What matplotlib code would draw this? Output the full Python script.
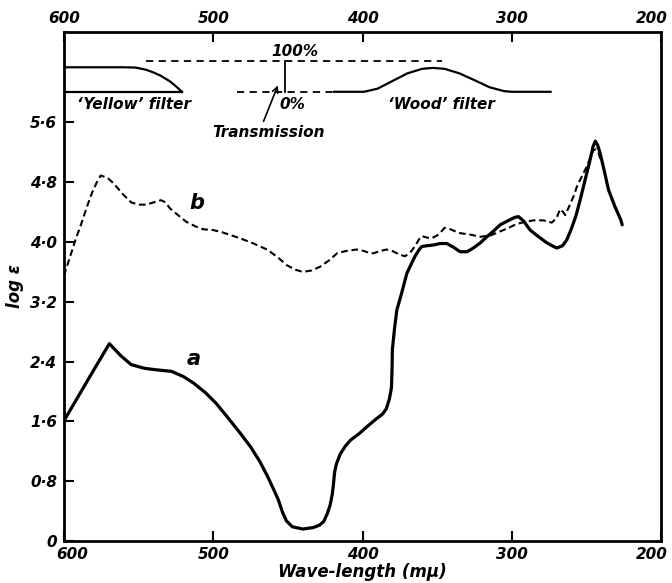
import matplotlib
matplotlib.use("Agg")
import matplotlib.pyplot as plt
import matplotlib.transforms as mtransforms
import numpy as np

# ---------------- data ----------------
a_nm = [600, 590, 580, 569.6, 562, 555, 546, 538, 528, 520, 513, 505, 498, 491, 483,
        475, 469, 464, 460, 456.4, 453.5, 451, 447, 440, 433, 429, 426, 423.5, 421.7,
        420.3, 419.5, 418.7, 417.5, 415, 411.5, 408, 402, 397, 391, 386.5, 384, 382,
        380.6, 380.2, 380, 378.5, 377, 374, 370.3, 367, 364.8, 362, 360.3, 357, 352.5,
        348, 343.5, 339, 334.6, 330, 325.7, 321, 316.7, 312, 307.8, 302, 298, 295.5,
        292, 287.7, 282, 276.5, 272, 269.8, 266, 263.1, 260, 257, 254.2, 251, 247.5,
        245.5, 244, 242.5, 240.8, 238, 235.2, 231, 227, 226]
a_log = [1.61, 1.95, 2.29, 2.64, 2.48, 2.36, 2.31, 2.29, 2.27, 2.20, 2.11, 1.98, 1.84, 1.67, 1.47,
         1.26, 1.07, 0.88, 0.71, 0.55, 0.38, 0.27, 0.19, 0.16, 0.18, 0.21, 0.26, 0.37, 0.48,
         0.62, 0.75, 0.92, 1.03, 1.16, 1.27, 1.35, 1.44, 1.53, 1.63, 1.70, 1.77, 1.90,
         2.05, 2.30, 2.56, 2.85, 3.09, 3.30, 3.58, 3.72, 3.81, 3.90, 3.94, 3.95, 3.96,
         3.98, 3.98, 3.93, 3.87, 3.87, 3.92, 3.99, 4.07, 4.15, 4.23, 4.29, 4.33, 4.34,
         4.28, 4.16, 4.07, 3.99, 3.94, 3.92, 3.95, 4.03, 4.18, 4.35, 4.56, 4.82, 5.10,
         5.28, 5.35, 5.30, 5.19, 4.95, 4.70, 4.48, 4.30, 4.23]

b_nm = [600, 596, 592, 589, 585, 581.4, 578, 575.4, 571, 567, 561, 555, 550, 545, 540,
        535, 532, 529, 523, 518, 512, 506.6, 500, 494, 488, 482, 473, 464, 457, 450.7,
        445, 440, 434, 428.4, 422, 417, 411, 404, 399, 395, 392.7, 388, 384, 380, 375,
        371.5, 368, 365, 362, 360.3, 357, 353.6, 349, 345, 341, 335, 328, 321, 314, 308,
        302, 297, 291, 285.5, 279, 273.2, 270, 267.6, 265.5, 264.2, 261, 258, 256.4, 253,
        249.7, 247, 245.3, 243.5, 241.8, 240.5]
b_log = [3.55, 3.80, 4.05, 4.21, 4.45, 4.65, 4.80, 4.89, 4.86, 4.79, 4.65, 4.53, 4.50, 4.50, 4.53,
         4.56, 4.53, 4.45, 4.35, 4.27, 4.21, 4.17, 4.16, 4.13, 4.09, 4.05, 3.98, 3.90, 3.80, 3.69,
         3.63, 3.60, 3.62, 3.67, 3.76, 3.85, 3.88, 3.90, 3.88, 3.85, 3.85, 3.88, 3.90, 3.88, 3.83,
         3.81, 3.86, 3.94, 4.04, 4.08, 4.06, 4.05, 4.10, 4.19, 4.17, 4.12, 4.10, 4.07, 4.09, 4.14,
         4.19, 4.24, 4.27, 4.29, 4.29, 4.26, 4.32, 4.44, 4.40, 4.36, 4.50, 4.64, 4.74, 4.88,
         5.01, 5.15, 5.23, 5.24, 5.19, 5.10]

# filter transmission (fraction) for the inset strip
yellow_nm = [600, 560, 552, 545, 540, 535, 529, 525, 521]
yellow_T = [0.80, 0.80, 0.79, 0.72, 0.63, 0.52, 0.34, 0.18, 0.0]
wood_nm = [419, 399, 390, 380, 370, 360, 353, 345, 335, 325, 315, 305, 300, 274]
wood_T = [0.0, 0.0, 0.10, 0.35, 0.60, 0.75, 0.78, 0.75, 0.60, 0.38, 0.15, 0.02, 0.0, 0.0]

x_ticks = [600, 500, 400, 300, 200]
y_ticks = [0, 0.8, 1.6, 2.4, 3.2, 4.0, 4.8, 5.6]
y_labels = ['0', '0·8', '1·6', '2·4', '3·2', '4·0', '4·8', '5·6']

# ---------------- figure ----------------
W, H = 672, 583
fig = plt.figure(figsize=(W / 100, H / 100), dpi=100)
L, R, B, T = 64, 661, 541, 32
ax = fig.add_axes([L / W, 1 - B / H, (R - L) / W, (B - T) / H])
ax.set_xlim(600, 200)
ax.set_ylim(0, 6.81)

fkw = dict(fontstyle='italic', fontweight='bold', family='DejaVu Sans')

ax.plot(a_nm, a_log, color='black', lw=2.3, solid_joinstyle='round', solid_capstyle='round')
ax.plot(b_nm, b_log, color='black', lw=1.5, dashes=(3.2, 1.8))

ax.text(513, 2.44, 'a', fontsize=15, ha='center', va='center', **fkw)
ax.text(511, 4.52, 'b', fontsize=15, ha='center', va='center', **fkw)

# inset strip (transmission)
y0, y100 = 6.01, 6.42
def ty(t):
    return y0 + np.asarray(t) * (y100 - y0)

ax.plot(yellow_nm, ty(yellow_T), color='black', lw=1.6)
ax.plot([600, 521], [y0, y0], color='black', lw=1.6)
ax.plot(wood_nm, ty(wood_T), color='black', lw=1.6)
ax.plot([545, 347], [y100, y100], color='black', lw=1.3, dashes=(4, 3))
ax.plot([484, 419], [y0, y0], color='black', lw=1.3, dashes=(4, 3))
ax.plot([452, 452], [y0, y100], color='black', lw=1.3)
ax.text(445, 6.55, '100%', fontsize=11, ha='center', va='center', **fkw)
ax.text(447, 5.84, '0%', fontsize=11, ha='center', va='center', **fkw)
ax.text(553, 5.84, '‘Yellow’ filter', fontsize=11, ha='center', va='center', **fkw)
ax.text(347, 5.84, '‘Wood’ filter', fontsize=11, ha='center', va='center', **fkw)
ax.text(463, 5.47, 'Transmission', fontsize=11, ha='center', va='center', **fkw)
ax.annotate('', xy=(456, 6.13), xytext=(467, 5.58),
            arrowprops=dict(arrowstyle='->', lw=1.2, color='black', mutation_scale=10))

# axes styling
for s in ax.spines.values():
    s.set_linewidth(2.0)
ax.set_xticks(x_ticks)
ax.set_xticklabels([str(v) for v in x_ticks])
ax.set_yticks(y_ticks)
ax.set_yticklabels(y_labels)
ax.tick_params(axis='both', direction='in', length=7, width=1.5, labelsize=11)
ax.tick_params(axis='x', top=True, labeltop=True, pad=4)
ax.tick_params(axis='y', pad=5)
for t in ax.xaxis.get_major_ticks() + ax.yaxis.get_major_ticks():
    for lab in (t.label1, t.label2):
        lab.set_fontstyle('italic')
        lab.set_fontweight('bold')

# nudge the corner labels inward as in the original
xt = ax.xaxis.get_major_ticks()
shift_r = mtransforms.ScaledTranslation(8 / 100, 0, fig.dpi_scale_trans)
shift_l = mtransforms.ScaledTranslation(-9 / 100, 0, fig.dpi_scale_trans)
xt[0].label1.set_transform(xt[0].label1.get_transform() + shift_r)
xt[-1].label1.set_transform(xt[-1].label1.get_transform() + shift_l)
xt[-1].label2.set_transform(xt[-1].label2.get_transform() + shift_l)

ax.set_xlabel('Wave-length (mμ)', fontsize=12, labelpad=1, **fkw)
ax.set_ylabel('log ε', fontsize=12, labelpad=4, **fkw)

fig.savefig('out.png', dpi=100)
